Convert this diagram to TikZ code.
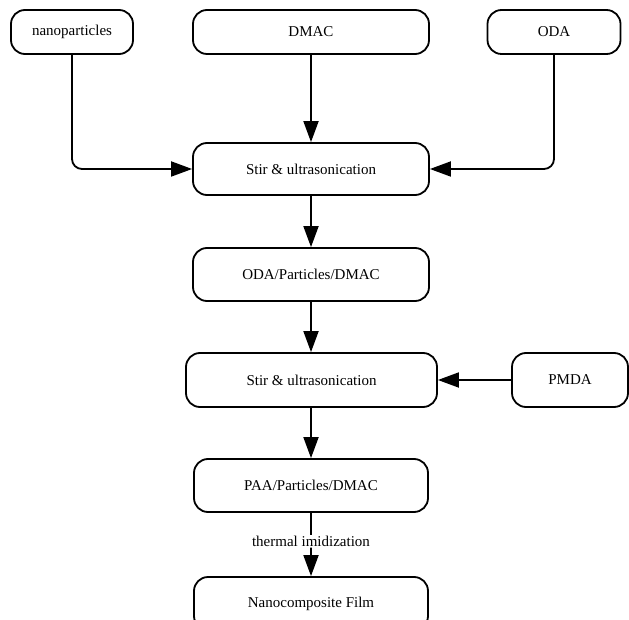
\documentclass[tikz,border=0pt]{standalone}
\usepackage{fontspec}
\setmainfont{Liberation Serif}
\usetikzlibrary{arrows.meta}
\begin{document}
\begin{tikzpicture}[x=1pt,y=-1pt,
  box/.style={draw, line width=1.8pt, rounded corners=14pt, inner sep=0pt,
    font=\fontsize{15}{17}\selectfont, fill=white},
  conn/.style={line width=1.8pt, -{Triangle[length=21pt,width=15pt]}, rounded corners=10pt},
  lbl/.style={font=\fontsize{15}{17}\selectfont, fill=white, inner sep=1pt}]
\useasboundingbox (0,0) rectangle (629,620);
\node[box, minimum width=122pt, minimum height=44pt] (nano) at (72,32) {nanoparticles};
\node[box, minimum width=236pt, minimum height=44pt] (dmac) at (311,32) {DMAC};
\node[box, minimum width=133pt, minimum height=44pt] (oda) at (554,32) {ODA};
\node[box, minimum width=236pt, minimum height=52pt] (stir1) at (311,169) {Stir \& ultrasonication};
\node[box, minimum width=236pt, minimum height=53pt] (odap) at (311,274.5) {ODA/Particles/DMAC};
\node[box, minimum width=251pt, minimum height=54pt] (stir2) at (311.5,380) {Stir \& ultrasonication};
\node[box, minimum width=116pt, minimum height=54pt] (pmda) at (570,380) {PMDA};
\node[box, minimum width=234pt, minimum height=53pt] (paa) at (311,485.5) {PAA/Particles/DMAC};
\node[box, minimum width=234pt, minimum height=53pt] (film) at (311,603.5) {Nanocomposite Film};
\draw[conn] (nano.south) |- (stir1.west);
\draw[conn] (oda.south) |- (stir1.east);
\draw[conn] (dmac.south) -- (stir1.north);
\draw[conn] (stir1.south) -- (odap.north);
\draw[conn] (odap.south) -- (odap.south |- stir2.north);
\draw[conn] (pmda.west) -- (stir2.east);
\draw[conn] (paa.north |- stir2.south) -- (paa.north);
\draw[conn] (paa.south) -- node[lbl, pos=0.45] {thermal imidization} (film.north);
\end{tikzpicture}
\end{document}
